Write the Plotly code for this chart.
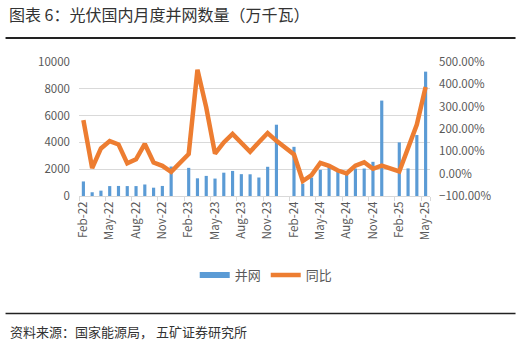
import plotly.graph_objects as go

months = [
    "Feb-22", "Mar-22", "Apr-22", "May-22", "Jun-22", "Jul-22", "Aug-22", "Sep-22", "Oct-22", "Nov-22", "Dec-22",
    "Jan-23", "Feb-23", "Mar-23", "Apr-23", "May-23", "Jun-23", "Jul-23", "Aug-23", "Sep-23", "Oct-23", "Nov-23", "Dec-23",
    "Jan-24", "Feb-24", "Mar-24", "Apr-24", "May-24", "Jun-24", "Jul-24", "Aug-24", "Sep-24", "Oct-24", "Nov-24", "Dec-24",
    "Jan-25", "Feb-25", "Mar-25", "Apr-25", "May-25",
]
grid_additions = [
    1086, 280, 400, 740, 750, 740, 740, 860, 620, 750, 2200,
    None, 2100, 1320, 1500, 1300, 1740, 1870, 1630, 1620, 1380, 2180, 5320,
    None, 3670, 920, 1380, 1950, 2200, 2000, 1600, 2050, 2050, 2550, 7120,
    None, 4000, 2060, 4550, 9280,
]
yoy_pct = [
    240, 25, 113, 146, 131, 46, 64, 133, 50, 35, 8,
    None, 88, 465, 296, 90, 140, 178, 141, 98, 141, 182, 147,
    None, 86, -33, -6, 48, 35, 14, 1, 36, 51, 22, 36,
    None, 10, 121, 220, 388,
]
tick_labels = months[::3]

title_text = "图表 6：光伏国内月度并网数量（万千瓦）"
source_text = "资料来源：国家能源局， 五矿证券研究所"

BLUE = "#5B9BD5"
ORANGE = "#ED7D31"
GRAY = "#595959"
CJK = "Noto Sans CJK SC"

W, H = 522, 341
L, R, T, B = 78.6, 91.7, 62.3, 145.3
PW, PH = W - L - R, H - T - B


def px_x(x):
    return (x - L) / PW


def px_y(y):
    return (H - B - y) / PH


fig = go.Figure()
fig.add_trace(go.Bar(
    x=months, y=grid_additions, name="并网", marker_color=BLUE,
    marker_line_width=0, showlegend=False, legendgroup="bar",
))
# legend proxy for the bar series (no data)
fig.add_trace(go.Scatter(
    x=[None], y=[None], mode="lines", name="并网", legendgroup="bar",
    line=dict(color=BLUE, width=6),
))
fig.add_trace(go.Scatter(
    x=months, y=yoy_pct, name="同比", mode="lines", yaxis="y2",
    connectgaps=True, line=dict(color=ORANGE, width=4.5),
))

fig.update_layout(
    width=W, height=H,
    margin=dict(l=L, r=R, t=T, b=B, pad=0),
    paper_bgcolor="white", plot_bgcolor="white",
    font=dict(family=CJK, color=GRAY, size=11),
    bargap=0.64,
    showlegend=True,
    legend=dict(
        orientation="h", xref="container", x=0.51, xanchor="center",
        yref="container", y=(H - 275) / H, yanchor="middle",
        font=dict(size=13, color=GRAY, family=CJK),
        itemwidth=30, traceorder="normal", tracegroupgap=0,
    ),
    xaxis=dict(
        type="category", categoryorder="array", categoryarray=months,
        tickmode="array", tickvals=tick_labels, ticktext=tick_labels,
        tickangle=-90, tickson="boundaries", ticks="outside", ticklen=4,
        tickcolor="#D9D9D9", showline=True, linecolor="#D9D9D9", linewidth=1,
        showgrid=False, tickfont=dict(size=11.5, color=GRAY, family=CJK),
        range=[-0.5, len(months) - 0.5],
    ),
    yaxis=dict(
        range=[0, 10000], dtick=2000, showgrid=True, gridcolor="#D9D9D9",
        gridwidth=1, zeroline=False, showline=False, ticks="",
        tickformat="d", tickfont=dict(size=11.5, color=GRAY, family=CJK),
        ticklabelstandoff=8,
    ),
    yaxis2=dict(
        overlaying="y", side="right", range=[-100, 500], dtick=100,
        showgrid=False, zeroline=False, showline=False, ticks="",
        tickformat=".2f", ticksuffix="%",
        tickfont=dict(size=11.5, color=GRAY, family=CJK),
        ticklabelstandoff=8,
    ),
    shapes=[
        dict(type="line", xref="paper", yref="paper", x0=px_x(5), x1=px_x(516),
             y0=px_y(38.3), y1=px_y(38.3), line=dict(color="#222222", width=2)),
        dict(type="line", xref="paper", yref="paper", x0=px_x(5), x1=px_x(516),
             y0=px_y(312.7), y1=px_y(312.7), line=dict(color="#222222", width=1.5)),
    ],
    annotations=[
        dict(text=title_text, xref="paper", yref="paper", x=px_x(6), y=px_y(15),
             xanchor="left", yanchor="middle", showarrow=False,
             font=dict(size=16, color="#333333", family=CJK)),
        dict(text=source_text, xref="paper", yref="paper", x=px_x(7), y=px_y(330.5),
             xanchor="left", yanchor="middle", showarrow=False,
             font=dict(size=13, color="#333333", family=CJK)),
    ],
)

fig.write_html("out.html")
